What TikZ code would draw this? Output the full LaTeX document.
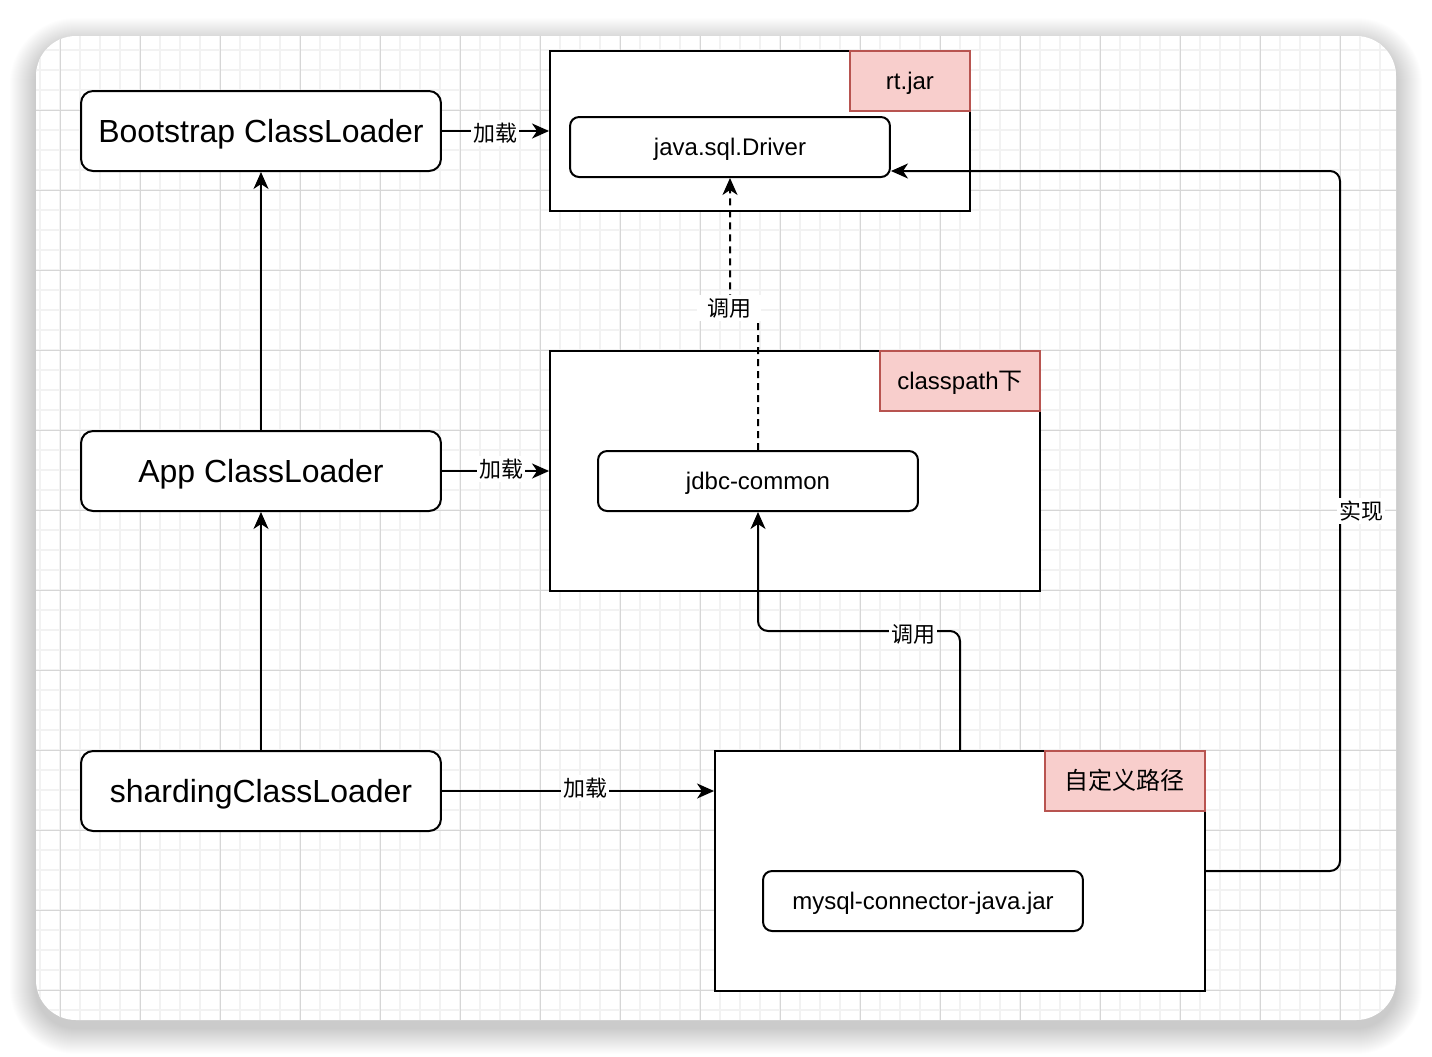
\documentclass[tikz,border=0pt]{standalone}
\usepackage{fontspec}
\setmainfont{Liberation Sans}
\newfontfamily\cjk{Noto Sans CJK SC}
\usetikzlibrary{arrows.meta, positioning, calc}
\definecolor{tagfill}{RGB}{248,206,204}
\definecolor{tagline}{RGB}{184,84,80}
\definecolor{gridminor}{RGB}{242,242,242}
\definecolor{gridmajor}{RGB}{214,214,214}

\begin{document}
\begin{tikzpicture}[x=0.02cm, y=-0.02cm,
    loader/.style={draw, fill=white, line width=0.04cm, rounded corners=0.24cm,
        minimum width=7.2cm, minimum height=1.6cm, text height=16.4pt, text depth=3.6pt,
        font=\fontsize{18.2}{22}\selectfont},
    holder/.style={draw, fill=white, line width=0.04cm, font=\fontsize{13.66}{16}\selectfont},
    item/.style={draw, fill=white, line width=0.04cm, rounded corners=0.18cm,
        minimum width=6.4cm, minimum height=1.2cm, text height=12.3pt, text depth=2.7pt,
        font=\fontsize{13.66}{16}\selectfont},
    tag/.style={draw=tagline, fill=tagfill, line width=0.04cm, minimum height=1.2cm,
        text height=12.3pt, text depth=2.7pt,
        anchor=north east, font=\fontsize{13.66}{16}\selectfont},
    lbl/.style={fill=white, inner sep=0.04cm, text height=11pt, text depth=1.6pt,
        font={\cjk\fontsize{12.5}{15}\selectfont}},
    conn/.style={line width=0.04cm, rounded corners=0.2cm,
        -{Stealth[length=0.34cm, width=0.3cm, inset=0.1cm]}}
]
    \useasboundingbox (0,0) rectangle (1432,1056);

    % Card shadow
    \foreach \i [evaluate=\i as \r using 0.8+0.02*\i] in {1,...,26} {
        \fill[black, opacity=0.006, rounded corners=\r cm] (36-\i,44-\i) rectangle (1396+\i,1028+\i);
    }
    \fill[white, rounded corners=0.8cm] (36,36) rectangle (1396,1020);

    % Grid
    \begin{scope}
        \clip[rounded corners=0.8cm] (36,36) rectangle (1396,1020);
        \foreach \gx in {40,60,...,1380} \draw[gridminor, line width=0.03cm] (\gx,36) -- (\gx,1020);
        \foreach \gy in {50,70,...,1010} \draw[gridminor, line width=0.03cm] (36,\gy) -- (1396,\gy);
        \foreach \gx in {60,140,...,1340} \draw[gridmajor, line width=0.02cm] (\gx,36) -- (\gx,1020);
        \foreach \gy in {110,190,...,990} \draw[gridmajor, line width=0.02cm] (36,\gy) -- (1396,\gy);
    \end{scope}

    % Class loaders
    \node[loader] (boot) at (261,131) {Bootstrap ClassLoader};
    \node[loader] (app) at (261,471) {App ClassLoader};
    \node[loader] (shard) at (261,791) {shardingClassLoader};

    % Loaded locations
    \node[holder, minimum width=8.4cm, minimum height=3.2cm] (rt) at (760,131) {};
    \node[holder, minimum width=9.8cm, minimum height=4.8cm] (cp) at (795,471) {};
    \node[holder, minimum width=9.8cm, minimum height=4.8cm] (custom) at (960,871) {};

    \node[item] (driver) at (730,147) {java.sql.Driver};
    \node[item] (jdbc) at (758,481) {jdbc-common};
    \node[item] (mysql) at (923,901) {mysql-connector-java.jar};

    \node[tag, minimum width=2.4cm] (rttag) at (rt.north east) {rt.jar};
    \node[tag, minimum width=3.2cm] (cptag) at (cp.north east) {classpath{\cjk 下}};
    \node[tag, minimum width=3.2cm] (customtag) at (custom.north east) {\cjk 自定义路径};

    % Loading
    \draw[conn] (boot) -- (rt);
    \node[lbl] at (495,133) {加载};
    \draw[conn] (app) -- (cp);
    \node[lbl] at (501,469) {加载};
    \draw[conn] (shard.east) -- (shard.east -| custom.west);
    \node[lbl] at (585,788) {加载};

    % Parent delegation
    \draw[conn] (app) -- (boot);
    \draw[conn] (shard) -- (app);

    % Calls
    \coordinate (calljog) at (730,308);
    \draw[conn, dash pattern=on 0.14cm off 0.1cm] (jdbc.north) |- (calljog) -- (driver.south);
    \node[lbl, inner xsep=0.2cm] at (729,308) {调用};

    \coordinate (callbend) at (960,631);
    \draw[conn] (custom.north) -- (callbend) -| (jdbc.south);
    \node[lbl] at (913,634) {调用};

    % Implementation
    \coordinate (impl) at (1340,510);
    \coordinate (drvin) at ([yshift=-0.48cm]driver.east);
    \draw[conn] (custom.east) -| (impl) |- (drvin);
    \node[lbl] at (1361,511) {实现};
\end{tikzpicture}
\end{document}
